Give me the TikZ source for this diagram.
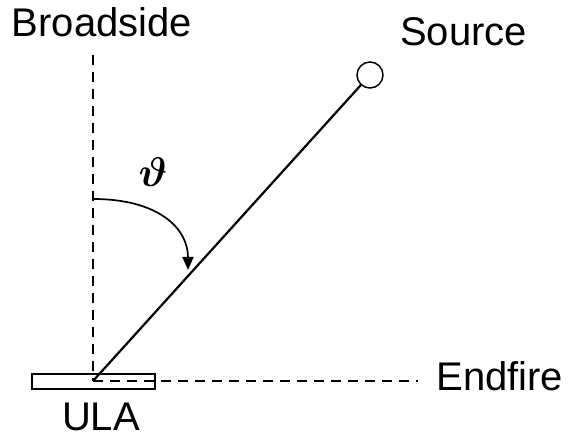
\documentclass[tikz,border=0pt]{standalone}
\usepackage{fontspec}
\setmainfont{Liberation Sans}
\usepackage{amsmath,amssymb}
\usetikzlibrary{arrows.meta,positioning,calc}
\tikzset{
  lbl/.style={inner sep=0pt,font=\fontsize{20}{24}\selectfont},
  dashln/.style={line width=0.8pt,dash pattern=on 5pt off 3.5pt},
  ulabox/.style={draw,line width=0.7pt,minimum width=61.5pt,minimum height=7.5pt,inner sep=0pt},
  srcnode/.style={draw,circle,line width=0.75pt,minimum size=13pt,inner sep=0pt},
}

\begin{document}
\begin{tikzpicture}[x=0.5pt,y=-0.5pt]
  \useasboundingbox (0,0) rectangle (568,438);
  % array and its axes
  \node[ulabox] (ula) at (93.5,381.5) {};
  \coordinate (o) at (93,381);
  \coordinate (bs) at (93,55);
  \coordinate (ef) at (418,381);
  \draw[dashln] (bs) -- (o);
  \draw[dashln] (o) -- (ef);
  % source direction
  \node[srcnode] (src) at (370,75) {};
  \draw[line width=1.1pt] (o) -- (src);
  % angle
  \coordinate (a0) at (93,199);
  \coordinate (a1) at (188,270);
  \draw[line width=0.85pt,-{Triangle[length=6.5pt,width=5.5pt]}] (a0) .. controls (158,199) and (188,228) .. (a1);
  \node[lbl] (theta) at (153,172) {$\boldsymbol{\vartheta}$};
  % labels
  \node[lbl,anchor=base] (bslbl) at (102,37) {Broadside};
  \node[lbl,anchor=base] (srclbl) at (463.5,46) {Source};
  \node[lbl,anchor=base west] (eflbl) at (436,391) {Endfire};
  \node[lbl,anchor=base] (ulalbl) at (101,430) {ULA};
\end{tikzpicture}
\end{document}
